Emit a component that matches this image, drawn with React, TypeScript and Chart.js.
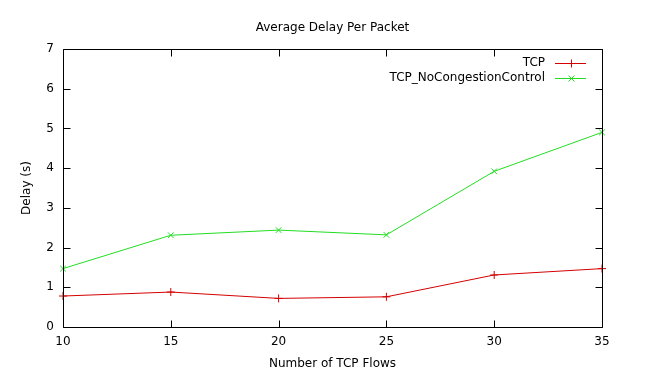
import React, { useEffect, useRef } from "react";
import { Chart, registerables } from "chart.js";

Chart.register(...registerables);

const flows = [10, 15, 20, 25, 30, 35];
const tcpDelay = [0.78, 0.88, 0.72, 0.76, 1.31, 1.47];
const noCcDelay = [1.47, 2.31, 2.44, 2.32, 3.92, 4.9];
const seriesNames = ["TCP", "TCP_NoCongestionControl"];
const chartTitle = "Average Delay Per Packet";
const xTitle = "Number of TCP Flows";
const yTitle = "Delay (s)";

const RED = "#d40000";
const GREEN = "#22dd22";
const FONT = "DejaVu Sans";

const framePlugin = {
  id: "gnuFrame",
  afterDatasetsDraw(chart: any) {
    const { ctx, chartArea } = chart;
    const { left, right, top, bottom } = chartArea;
    const L = Math.round(left) + 0.5;
    const R = Math.round(right) + 0.5;
    const T = Math.round(top) + 0.5;
    const B = Math.round(bottom) + 0.5;
    const tl = 7;
    ctx.save();
    ctx.strokeStyle = "#000";
    ctx.lineWidth = 1;
    ctx.beginPath();
    ctx.rect(L, T, R - L, B - T);
    const xs = chart.scales.x;
    const ys = chart.scales.y;
    xs.ticks.forEach((t: any) => {
      const px = Math.round(xs.getPixelForValue(t.value)) + 0.5;
      ctx.moveTo(px, B);
      ctx.lineTo(px, B - tl);
      ctx.moveTo(px, T);
      ctx.lineTo(px, T + tl);
    });
    ys.ticks.forEach((t: any) => {
      const py = Math.round(ys.getPixelForValue(t.value)) + 0.5;
      ctx.moveTo(L, py);
      ctx.lineTo(L + tl, py);
      ctx.moveTo(R, py);
      ctx.lineTo(R - tl, py);
    });
    ctx.stroke();

    // legend (gnuplot style, inside top-right)
    const textRight = Math.round(right) - 57;
    const lineStart = Math.round(right) - 47;
    const lineEnd = Math.round(right) - 16;
    const rows = [
      { name: seriesNames[0], color: RED, style: "plus" },
      { name: seriesNames[1], color: GREEN, style: "x" },
    ];
    ctx.font = `12px "${FONT}"`;
    ctx.textAlign = "right";
    ctx.textBaseline = "middle";
    rows.forEach((r, i) => {
      const y = Math.round(top) + 14 + i * 14.5;
      ctx.fillStyle = "#000";
      ctx.fillText(r.name, textRight, y);
      ctx.strokeStyle = r.color;
      ctx.lineWidth = 1;
      ctx.beginPath();
      const cy = Math.round(y) + 0.5;
      ctx.moveTo(lineStart, cy);
      ctx.lineTo(lineEnd, cy);
      const cx = Math.round((lineStart + lineEnd) / 2) + 0.5;
      if (r.style === "plus") {
        ctx.moveTo(cx, cy - 4);
        ctx.lineTo(cx, cy + 4);
      } else {
        ctx.moveTo(cx - 3, cy - 3);
        ctx.lineTo(cx + 3, cy + 3);
        ctx.moveTo(cx - 3, cy + 3);
        ctx.lineTo(cx + 3, cy - 3);
      }
      ctx.stroke();
    });
    ctx.restore();
  },
};

export default function App() {
  const ref = useRef<HTMLCanvasElement | null>(null);

  useEffect(() => {
    document.body.style.margin = "0";
    const canvas = ref.current;
    if (!canvas) return;
    const chart = new Chart(canvas, {
      type: "line",
      data: {
        datasets: [
          {
            label: seriesNames[0],
            data: flows.map((x, i) => ({ x, y: tcpDelay[i] })),
            borderColor: RED,
            backgroundColor: RED,
            borderWidth: 1,
            pointStyle: "cross",
            pointRadius: 4,
            pointBorderWidth: 1,
            pointBorderColor: RED,
            tension: 0,
            fill: false,
            clip: false as any,
          },
          {
            label: seriesNames[1],
            data: flows.map((x, i) => ({ x, y: noCcDelay[i] })),
            borderColor: GREEN,
            backgroundColor: GREEN,
            borderWidth: 1,
            pointStyle: "crossRot",
            pointRadius: 4,
            pointBorderWidth: 1,
            pointBorderColor: GREEN,
            tension: 0,
            fill: false,
            clip: false as any,
          },
        ],
      },
      options: {
        responsive: false,
        animation: false,
        devicePixelRatio: 1,
        layout: { padding: { left: 0, right: 44, top: 0, bottom: 0 } },
        plugins: {
          legend: { display: false },
          tooltip: { enabled: false },
          title: {
            display: true,
            fullSize: false,
            text: chartTitle,
            color: "#000",
            font: { family: FONT, size: 12, weight: "normal" },
            padding: { top: 20.8, bottom: 13.8 },
          },
        },
        scales: {
          x: {
            type: "linear",
            min: 10,
            max: 35,
            grid: { display: false, drawTicks: false },
            border: { display: false },
            ticks: {
              stepSize: 5,
              autoSkip: false,
              maxRotation: 0,
              padding: 8,
              color: "#000",
              font: { family: FONT, size: 12 },
            },
            title: {
              display: true,
              text: xTitle,
              color: "#000",
              font: { family: FONT, size: 12 },
              padding: { top: 0, bottom: 8.8 },
            },
            afterFit(scale: any) {
              scale.height = 53;
            },
          },
          y: {
            type: "linear",
            min: 0,
            max: 7,
            grid: { display: false, drawTicks: false },
            border: { display: false },
            ticks: {
              stepSize: 1,
              padding: 9,
              color: "#000",
              font: { family: FONT, size: 12 },
            },
            title: {
              display: true,
              text: yTitle,
              color: "#000",
              font: { family: FONT, size: 12 },
              padding: { top: 19.8, bottom: 0 },
            },
            afterFit(scale: any) {
              scale.width = 63;
            },
          },
        },
      },
      plugins: [framePlugin],
    });
    return () => chart.destroy();
  }, []);

  return <canvas ref={ref} width={646} height={380} style={{ display: "block" }} />;
}
